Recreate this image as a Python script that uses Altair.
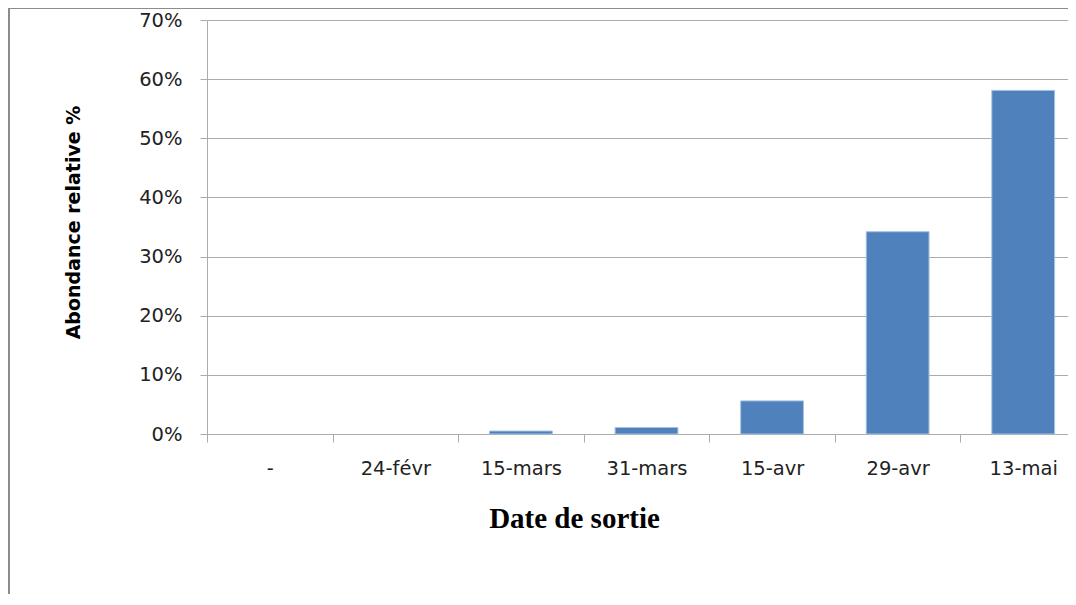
import altair as alt
import pandas as pd

categories = ["-", "24-févr", "15-mars", "31-mars", "15-avr", "29-avr", "13-mai"]
values = [0.0, 0.0, 0.005, 0.011, 0.056, 0.342, 0.581]
y_ticks = [0, 0.1, 0.2, 0.3, 0.4, 0.5, 0.6, 0.7]

df = pd.DataFrame({"date": categories, "abondance": values})

W, H = 861, 414
XRANGE = 879
GRID = "#ababab"

bars = alt.Chart(df).mark_bar(
    color="#4F81BD", stroke="#A7C0E0", strokeWidth=1, width=alt.RelativeBandSize(0.5)
).encode(
    x=alt.X(
        "date:N",
        sort=categories,
        scale=alt.Scale(domain=categories, range=[0, XRANGE], paddingInner=0, paddingOuter=0),
        axis=alt.Axis(
            title="Date de sortie",
            titleFont="Liberation Serif",
            titleFontSize=29,
            titleFontWeight="bold",
            titleColor="#000000",
            titleX=367,
            titleY=84,
            titleAlign="center",
            titleBaseline="middle",
            labelFont="DejaVu Sans",
            labelFontSize=19.5,
            labelColor="#222222",
            labelAngle=0,
            labelBaseline="middle",
            labelPadding=26,
            tickBand="extent",
            tickSize=8,
            tickColor=GRID,
            domainColor=GRID,
            grid=False,
        ),
    ),
    y=alt.Y(
        "abondance:Q",
        scale=alt.Scale(domain=[0, 0.7], nice=False),
        axis=alt.Axis(
            values=y_ticks,
            format=".0%",
            title="Abondance relative %",
            titleFont="DejaVu Sans",
            titleFontSize=19,
            titleFontWeight="bold",
            titleColor="#000000",
            titleX=-134,
            titleY=202,
            titleAlign="center",
            titleBaseline="middle",
            labelFont="DejaVu Sans",
            labelFontSize=19.5,
            labelColor="#222222",
            labelPadding=18,
            tickSize=7,
            tickColor=GRID,
            domainColor=GRID,
            gridColor=GRID,
            gridWidth=1,
        ),
    ),
    strokeOpacity=alt.condition(alt.datum.abondance > 0, alt.value(1), alt.value(0)),
)

border_left = alt.Chart(df).mark_rule(color="#8c8c8c", strokeWidth=2).encode(
    x=alt.value(-198), y=alt.value(-12), y2=alt.value(620)
)
border_top = alt.Chart(df).mark_rule(color="#8c8c8c", strokeWidth=2).encode(
    x=alt.value(-199), x2=alt.value(W + 20), y=alt.value(-12)
)

chart = alt.layer(bars, border_left, border_top).properties(
    width=W,
    height=H,
    padding={"left": 199, "top": 12, "right": 0, "bottom": 160},
    autosize=alt.AutoSizeParams(type="none"),
    background="#ffffff",
).configure_view(stroke="transparent")

chart.save("out.html", embed_options={"renderer": "svg", "actions": False})
